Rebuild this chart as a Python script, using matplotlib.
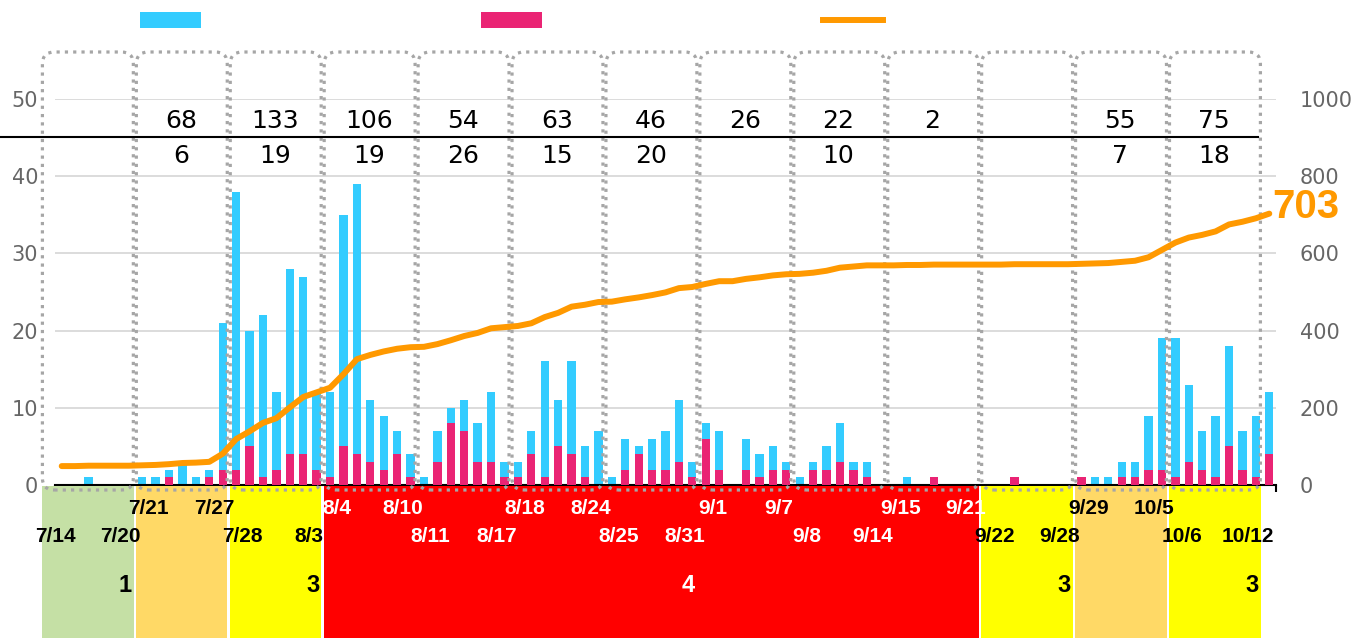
import numpy as np
import pandas as pd
import matplotlib
matplotlib.use("Agg")
import matplotlib.pyplot as plt
from matplotlib.patches import Rectangle, FancyBboxPatch

# daily counts 7/14 .. 10/12
start_count = 49  # cumulative total before 7/14
days = pd.date_range("2020-07-14", periods=91)
date_labels = [f"{d.month}/{d.day}" for d in days]

daily_total = [
    0, 0, 1, 0, 0, 0, 1,
    1, 2, 3, 1, 2, 21, 38,
    20, 22, 12, 28, 27, 12, 12,
    35, 39, 11, 9, 7, 4, 1,
    7, 10, 11, 8, 12, 3, 3,
    7, 16, 11, 16, 5, 7, 1,
    6, 5, 6, 7, 11, 3, 8,
    7, 0, 6, 4, 5, 3, 1,
    3, 5, 8, 3, 3, 0, 0,
    1, 0, 1, 0, 0, 0, 0,
    0, 1, 0, 0, 0, 0, 1,
    1, 1, 3, 3, 9, 19, 19,
    13, 7, 9, 18, 7, 9, 12,
]
daily_sub = [
    0, 0, 0, 0, 0, 0, 0,
    0, 1, 0, 0, 1, 2, 2,
    5, 1, 2, 4, 4, 2, 1,
    5, 4, 3, 2, 4, 1, 0,
    3, 8, 7, 3, 3, 1, 1,
    4, 1, 5, 4, 1, 0, 0,
    2, 4, 2, 2, 3, 1, 6,
    2, 0, 2, 1, 2, 2, 0,
    2, 2, 3, 2, 1, 0, 0,
    0, 0, 1, 0, 0, 0, 0,
    0, 1, 0, 0, 0, 0, 1,
    0, 0, 1, 1, 2, 2, 1,
    3, 2, 1, 5, 2, 1, 4,
]

# weekly labels as printed on the chart
week_total_labels = ["", "68", "133", "106", "54", "63", "46", "26", "22", "2", "", "55", "75"]
week_sub_labels = ["", "6", "19", "19", "26", "15", "20", "", "10", "", "", "7", "18"]
week_level = [1, 2, 3, 4, 4, 4, 4, 4, 4, 4, 3, 2, 3]
level_labels = ["1", "", "3", "", "", "", "4", "", "", "", "3", "", "3"]

level_colors = {1: "#C5E0A5", 2: "#FFD966", 3: "#FFFF00", 4: "#FF0000"}
blue = "#33CCFF"
pink = "#EA2474"
orange = "#FF9900"

W, H = 1364, 638
fig = plt.figure(figsize=(W / 100, H / 100), dpi=100)
ax = fig.add_axes([55 / W, (H - 485) / H, 1221 / W, 386 / H])
ax2 = ax.twinx()
ov = fig.add_axes([0, 0, 1, 1])
ov.set_xlim(0, W)
ov.set_ylim(0, H)
ov.axis("off")
ov.patch.set_visible(False)
ax.set_zorder(1)
ov.set_zorder(2)
ax2.set_zorder(3)

x = np.arange(len(daily_total))
ax.bar(x, daily_total, width=0.62, color=blue, zorder=2)
ax.bar(x, daily_sub, width=0.62, color=pink, zorder=3)
ax.set_xlim(-0.5, 90.5)
ax.set_ylim(0, 50)
ax.set_yticks(range(0, 51, 10))
ax.yaxis.grid(True, color="#d9d9d9", lw=1.3)
ax.set_axisbelow(True)
ax.set_xticks(np.arange(-0.5, 91, 7))
ax.tick_params(axis="x", direction="out", length=5, width=1.5, labelbottom=False)
ax.tick_params(axis="y", length=0, pad=12, labelsize=15, labelcolor="#666666")
for s in ["left", "right", "top"]:
    ax.spines[s].set_visible(False)
ax.spines["bottom"].set_linewidth(1.5)

cumulative = start_count + np.cumsum(daily_total)
ax2.plot(x, cumulative, color=orange, lw=4.3, solid_capstyle="round", solid_joinstyle="round")
ax2.set_ylim(0, 1000)
ax2.set_yticks(range(0, 1001, 200))
ax2.tick_params(axis="y", length=0, pad=17, labelsize=15, labelcolor="#666666")
for s in ax2.spines.values():
    s.set_visible(False)
ax2.annotate(str(cumulative[-1]), xy=(x[-1], cumulative[-1]), xytext=(2, 5),
             textcoords="offset points", ha="left", va="center", fontsize=29,
             fontweight="bold", color=orange, family="Liberation Sans",
             annotation_clip=False)


def px(d):
    return ax.transData.transform((d, 0))[0]


def top(y):
    return H - y


n_weeks = len(week_level)
bounds = [7 * k - 1.55 for k in range(n_weeks + 1)]

# coloured level bands under the axis, consecutive weeks merged
k = 0
while k < n_weeks:
    j = k
    while j + 1 < n_weeks and week_level[j + 1] == week_level[k]:
        j += 1
    x0 = px(bounds[k]) + 1.3
    x1 = px(bounds[j + 1]) - 1.3
    ov.add_patch(Rectangle((x0, 0), x1 - x0, top(486), color=level_colors[week_level[k]], lw=0))
    k = j + 1

# dotted weekly frames
for k in range(n_weeks):
    x0 = px(bounds[k]) + 1.5
    x1 = px(bounds[k + 1]) - 1.5
    ov.add_patch(FancyBboxPatch((x0, top(490)), x1 - x0, 490 - 52,
                                boxstyle="round,pad=0,rounding_size=12", fill=False,
                                ec="#a6a6a6", lw=2.3, ls=(0, (1, 1.6))))

ov.plot([0, px(bounds[-1]) - 4], [top(137), top(137)], color="black", lw=1.5)

for k in range(n_weeks):
    cx = px(7 * k + 1.9)
    ov.text(cx, top(121), week_total_labels[k], ha="center", va="center", fontsize=18, color="black")
    ov.text(cx, top(156), week_sub_labels[k], ha="center", va="center", fontsize=18, color="black")
    tc = "white" if week_level[k] == 4 else "black"
    row = top(536) if k % 2 == 0 else top(509)
    ov.text(px(7 * k - 0.5), row, date_labels[7 * k], ha="center", va="center",
            fontsize=15, fontweight="bold", family="Liberation Sans", color=tc)
    ov.text(px(7 * k + 4.4), row, date_labels[7 * k + 6], ha="center", va="center",
            fontsize=15, fontweight="bold", family="Liberation Sans", color=tc)
    if level_labels[k]:
        ov.text(px(7 * k + 5.2), top(585), level_labels[k], ha="right", va="center",
                fontsize=17, fontweight="bold", family="Liberation Sans", color=tc)

# legend swatches (no text)
ov.add_patch(Rectangle((140, top(28)), 61, 16, color=blue, lw=0))
ov.add_patch(Rectangle((481, top(28)), 61, 16, color=pink, lw=0))
ov.plot([823, 883], [top(20), top(20)], color=orange, lw=4.3)

fig.savefig("out.png", dpi=100)
